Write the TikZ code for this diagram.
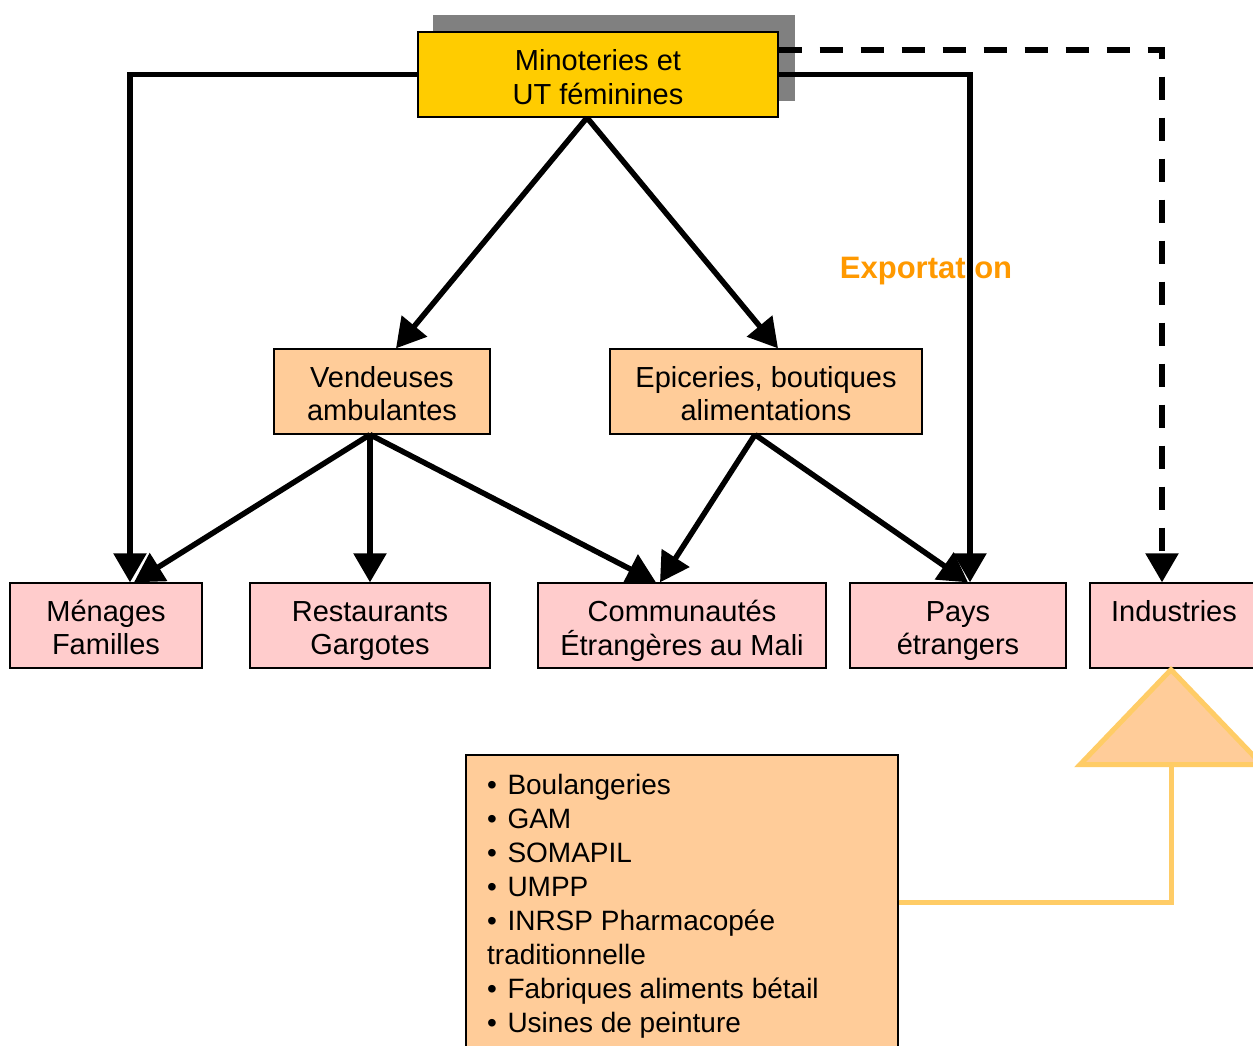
\documentclass[tikz,border=0pt]{standalone}
\usepackage{fontspec}
\setmainfont{Liberation Sans}
\usetikzlibrary{arrows.meta,calc}
\definecolor{gold}{HTML}{FFCC00}
\definecolor{peach}{HTML}{FFCC99}
\definecolor{pinkb}{HTML}{FFCCCC}
\definecolor{shadowg}{HTML}{808080}
\definecolor{orangex}{HTML}{FF9900}
\definecolor{yelline}{HTML}{FFCC66}
\newcommand\bul{•\hspace{10.5pt}}
\begin{document}
\begin{tikzpicture}[x=1pt,y=-1pt,
  box/.style={draw=black, line width=1.3pt, minimum height=85pt, inner sep=0pt},
  btext/.style={inner sep=0pt, align=center, font=\fontsize{29}{33.5}\selectfont},
  conn/.style={line width=5.5pt, -{Triangle[length=29pt,width=32pt]}},
  dconn/.style={conn, dash pattern=on 23pt off 18pt},
  yel/.style={draw=yelline, line width=5pt}
]
\useasboundingbox (0,0) rectangle (1253,1046);
\clip (0,0) rectangle (1253,1046);
\fill[white] (0,0) rectangle (1253,1046);
% shadow
\fill[shadowg] (433,15) rectangle (795,101);
% boxes
\node[box, fill=gold, minimum width=360pt] (top) at (598,74.5) {};
\node[box, fill=peach, minimum width=216pt] (ven) at (382,391.5) {};
\node[box, fill=peach, minimum width=312pt] (epi) at (766,391.5) {};
\node[box, fill=pinkb, minimum width=192pt] (men) at (106,625.5) {};
\node[box, fill=pinkb, minimum width=240pt] (res) at (370,625.5) {};
\node[box, fill=pinkb, minimum width=288pt] (com) at (682,625.5) {};
\node[box, fill=pinkb, minimum width=216pt] (pay) at (958,625.5) {};
\node[box, fill=pinkb, minimum width=168pt] (ind) at (1174,625.5) {};
\node[box, fill=peach, minimum width=432pt, minimum height=325pt] (lst) at (682,917.5) {};
% texts
\node[btext] (topt) at ([yshift=-2.5pt]top.center) {Minoteries et\\UT féminines};
\node[btext] (vent) at ([yshift=-2pt]ven.center) {Vendeuses\\ambulantes};
\node[btext] (epit) at ([yshift=-2pt]epi.center) {Epiceries, boutiques\\alimentations};
\node[btext] (ment) at ([yshift=-2pt]men.center) {Ménages\\Familles};
\node[btext] (rest) at ([yshift=-5.5pt]res.center) {Restaurants\\Gargotes};
\node[btext] (comt) at ([yshift=-5.5pt]com.center) {Communautés\\Étrangères au Mali};
\node[btext] (payt) at ([yshift=-5.5pt]pay.center) {Pays\\étrangers};
\node[btext, anchor=north] (indt) at ([yshift=-18pt]ind.north) {Industries};
\node[anchor=north west, inner sep=0pt, align=left, font=\fontsize{28}{34}\selectfont] (lsttext) at (487,774) {\bul Boulangeries\\\bul GAM\\\bul SOMAPIL\\\bul UMPP\\\bul INRSP Pharmacopée\\traditionnelle\\\bul Fabriques aliments bétail\\\bul Usines de peinture};
% label
\node[text=orangex, font=\bfseries\fontsize{31}{36}\selectfont, inner sep=0pt] (exp) at (926,270) {Exportation};
% connectors
\draw[conn] (top.west) -| ([xshift=24pt]men.north);
\draw[conn] (top.east) -| ([xshift=12pt]pay.north);
\draw[dconn] ([yshift=24.5pt]top.east) -| ([xshift=-12pt]ind.north);
\draw[conn] ([xshift=-11pt]top.south) -- ([xshift=14pt]ven.north);
\draw[conn] ([xshift=-11pt]top.south) -- ([xshift=12pt]epi.north);
\draw[conn] ([xshift=-12pt]ven.south) -- ([xshift=28pt]men.north);
\draw[conn] ([xshift=-12pt]ven.south) -- (res.north);
\draw[conn] ([xshift=-12pt]ven.south) -- ([xshift=-26pt]com.north);
\draw[conn] ([xshift=-11pt]epi.south) -- ([xshift=-22pt]com.north);
\draw[conn] ([xshift=-11pt]epi.south) -- ([xshift=10pt]pay.north);
% yellow arrow
\coordinate (apex) at ([xshift=-3pt,yshift=-1pt]ind.south);
\draw[yel] ([yshift=15.5pt]lst.east) -| ($(apex)+(0,95)$);
\filldraw[yel, fill=peach, line join=miter] (apex) -- ($(apex)+(91,95)$) -- ($(apex)+(-91,95)$) -- cycle;
\end{tikzpicture}
\end{document}
